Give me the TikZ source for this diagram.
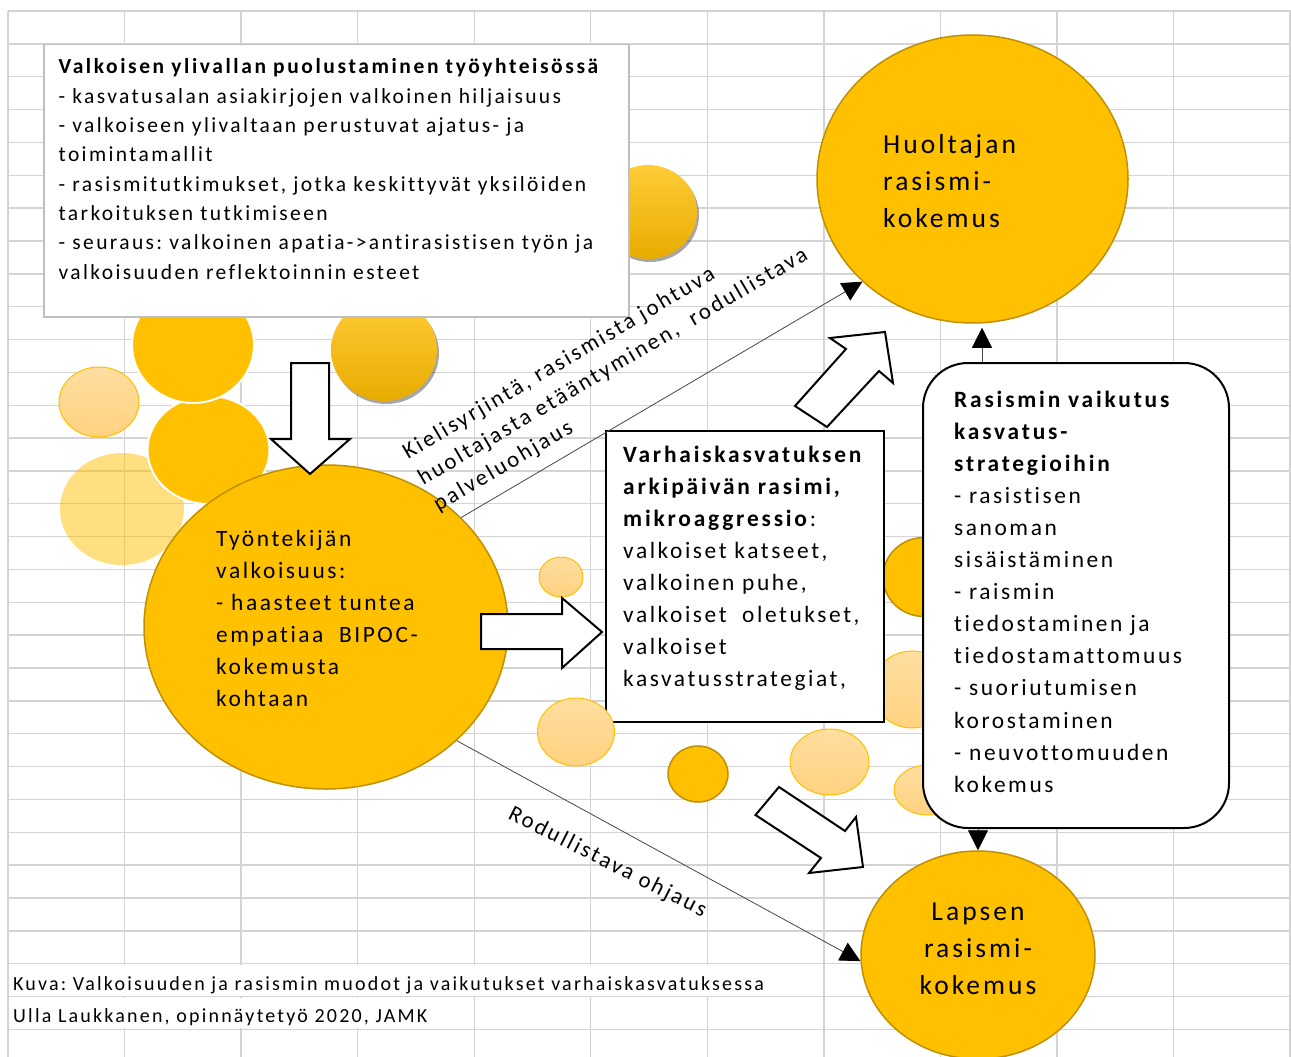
\documentclass[tikz,border=0pt]{standalone}
\usepackage{fontspec}
\setmainfont{Carlito}[LetterSpace=11,BoldFeatures={LetterSpace=12},Ligatures={TeX,NoCommon}]
\usetikzlibrary{shapes.geometric,arrows.meta,shadows}
\definecolor{gridc}{RGB}{212,212,212}
\definecolor{gold}{RGB}{255,192,0}
\definecolor{goldedge}{RGB}{191,144,0}
\definecolor{lighttop}{RGB}{255,222,160}
\definecolor{lightbot}{RGB}{255,210,128}
\definecolor{boxgray}{RGB}{191,191,191}
\definecolor{conncol}{RGB}{70,70,70}
\definecolor{shadetop}{RGB}{255,204,55}
\definecolor{shadebot}{RGB}{232,172,0}
\begin{document}
\frenchspacing
\begin{tikzpicture}[x=1pt,y=-1pt,
  gridline/.style={gridc,line width=1.4pt},
  solidball/.style={fill=gold,draw=white,line width=2pt},
  edgeball/.style={fill=gold,draw=goldedge,line width=1.5pt},
  lightball/.style={top color=lighttop,bottom color=lightbot,draw=gold,line width=1pt},
  paleball/.style={fill=gold,fill opacity=0.5},
  shadball/.style={top color=shadetop,bottom color=shadebot,
     drop shadow={shadow xshift=2pt,shadow yshift=-3pt,opacity=0.35,fill=black}},
  bigball/.style={ellipse,fill=gold,draw=goldedge,line width=1.5pt,inner sep=0pt},
  framebox/.style={draw=black,line width=2pt,fill=white,inner sep=0pt,anchor=north west},
  txt/.style={inner sep=0pt,anchor=base west,text width=#1,align=left},
  blockarrow/.style={draw=black,fill=white,line width=2pt,line join=miter},
  conn/.style={draw=conncol,line width=0.8pt,-{Triangle[length=20pt,width=20pt,color=black]}},
  fA/.style={font=\fontsize{21.5}{29.3}\selectfont},
  fB/.style={font=\fontsize{23.4}{32.1}\selectfont},
  fC/.style={font=\fontsize{27.5}{37}\selectfont},
  fD/.style={font=\fontsize{22.7}{30}\selectfont},
  fE/.style={font=\fontsize{20}{24}\selectfont},
]
\useasboundingbox (0,0) rectangle (1291,1057);
\fill[white] (0,0) rectangle (1291,1057);
% grid
\foreach \k in {0,...,31} \draw[gridline] (8,{11+32.85*\k}) -- (1291,{11+32.85*\k});
\foreach \j in {0,...,11} \draw[gridline] ({8+116.55*\j},11) -- ({8+116.55*\j},1057);
\fill[white] (9.5,{11+32.85*29+1}) rectangle (823,{11+32.85*30-1});
\fill[white] (9.5,{11+32.85*30+1}) rectangle (473,{11+32.85*31-1});
% decorative balls, left group
\fill[paleball] (122,509) ellipse [x radius=62pt,y radius=56pt];
\path[lightball] (99,402) ellipse [x radius=40pt,y radius=35pt];
\path[solidball] (208.5,450) ellipse [x radius=61pt,y radius=54pt];
\path[solidball] (193,345) ellipse [x radius=61pt,y radius=58pt];
\path[shadball] (648,212) ellipse [x radius=49pt,y radius=47pt];
\path[shadball] (384,350) ellipse [x radius=53pt,y radius=51pt];
% top-left box
\node[draw=boxgray,line width=1.5pt,fill=white,inner sep=0pt,anchor=north west,
      minimum width=585pt,minimum height=272pt] (vyb) at (43,44) {};
\node[txt=570pt,fA] (vyt) at (58.5,74) {\textbf{Valkoisen ylivallan puolustaminen työyhteisössä}\\
- kasvatusalan asiakirjojen valkoinen hiljaisuus\\
- valkoiseen ylivaltaan perustuvat ajatus- ja\\
toimintamallit\\
- rasismitutkimukset, jotka keskittyvät yksilöiden\\
tarkoituksen tutkimiseen\\
- seuraus: valkoinen apatia->antirasistisen työn ja\\
valkoisuuden reflektoinnin esteet};
% main circle
\node[bigball,minimum width=364pt,minimum height=324pt] (main) at (326,627) {};
\node[txt=290pt,fB] (maint) at (216,546) {Työntekijän\\
valkoisuus:\\
- haasteet tuntea\\
empatiaa\ \ BIPOC-\\
kokemusta\\
kohtaan};
% small balls
\path[lightball] (561,577) ellipse [x radius=22pt,y radius=20pt];
\path[edgeball] (698,774) ellipse [x radius=30pt,y radius=28pt];
\path[lightball] (829.5,762) ellipse [x radius=39.5pt,y radius=33pt];
\path[edgeball] (924,577) ellipse [x radius=41pt,y radius=39.5pt];
\path[lightball] (912,689.5) ellipse [x radius=40pt,y radius=38.5pt];
\path[lightball] (928,790) ellipse [x radius=34pt,y radius=25pt];
% big result circles
\node[bigball,minimum width=311pt,minimum height=288pt] (huol) at (972.5,179) {};
\node[txt=250pt,fC] (huolt) at (883,153) {Huoltajan\\rasismi-\\kokemus};
\node[bigball,minimum width=234pt,minimum height=208pt] (lap) at (978,955) {};
\node[inner sep=0pt,anchor=base,text width=220pt,align=center,fC] (lapt) at (978,920) {Lapsen\\rasismi-\\kokemus};
% middle box
\node[framebox,minimum width=278pt,minimum height=291pt] (vk) at (605,430) {};
\node[txt=270pt,fB] (vkt) at (623,462) {\textbf{Varhaiskasvatuksen}\\
\textbf{arkipäivän rasimi,}\\
\textbf{mikroaggressio}:\\
valkoiset katseet,\\
valkoinen puhe,\\
valkoiset\ \ oletukset,\\
valkoiset\\
kasvatusstrategiat,};
\path[lightball] (576,732) ellipse [x radius=38.5pt,y radius=34pt];
% right rounded box
\node[framebox,rounded corners=45pt,minimum width=306pt,minimum height=465pt] (ras) at (922,362) {};
\node[txt=280pt,fB] (rast) at (954,407) {\textbf{Rasismin vaikutus}\\
\textbf{kasvatus-}\\
\textbf{strategioihin}\\
- rasistisen\\
sanoman\\
sisäistäminen\\
- raismin\\
tiedostaminen ja\\
tiedostamattomuus\\
- suoriutumisen\\
korostaminen\\
- neuvottomuuden\\
kokemus};
% block arrows
\draw[blockarrow] (291,363) -- (329,363) -- (329,439) -- (350,439) -- (310,474) -- (271,439) -- (291,439) -- cycle;
\draw[blockarrow] (481,614) -- (562,614) -- (562,598) -- (602,632) -- (562,668) -- (562,649) -- (481,649) -- cycle;
\draw[blockarrow] (795,406) -- (846,349) -- (830,338) -- (885,332) -- (893,383) -- (879,371) -- (827,427) -- cycle;
\draw[blockarrow] (779,787) -- (845,831) -- (856,817) -- (863,867) -- (809,873) -- (821,858) -- (755.5,815) -- cycle;
% connectors
\draw[conn] (main.39.4) -- (huol.223);
\draw[conn] (main.-41.7) -- (lap.183.4);
\draw[conn] ([xshift=60pt]ras.north west) -- ([xshift=9.5pt,yshift=-4pt]huol.south);
\draw[conn] ([xshift=56pt]ras.south west) -- (lap.north);
% rotated labels
\node[txt=460pt,fD,rotate=30.5] (l1) at (408,460) {Kielisyrjintä, rasismista johtuva\\
huoltajasta etääntyminen,\ \ rodullistava\\
palveluohjaus};
\node[txt=260pt,fD,rotate=-27] (l2) at (507,818) {Rodullistava ohjaus};
% caption
\node[txt=800pt,fE] (cap1) at (13,990) {Kuva: Valkoisuuden ja rasismin muodot ja vaikutukset varhaiskasvatuksessa};
\node[txt=800pt,fE] (cap2) at (13,1022) {Ulla Laukkanen, opinnäytetyö 2020, JAMK};
\end{tikzpicture}
\end{document}
